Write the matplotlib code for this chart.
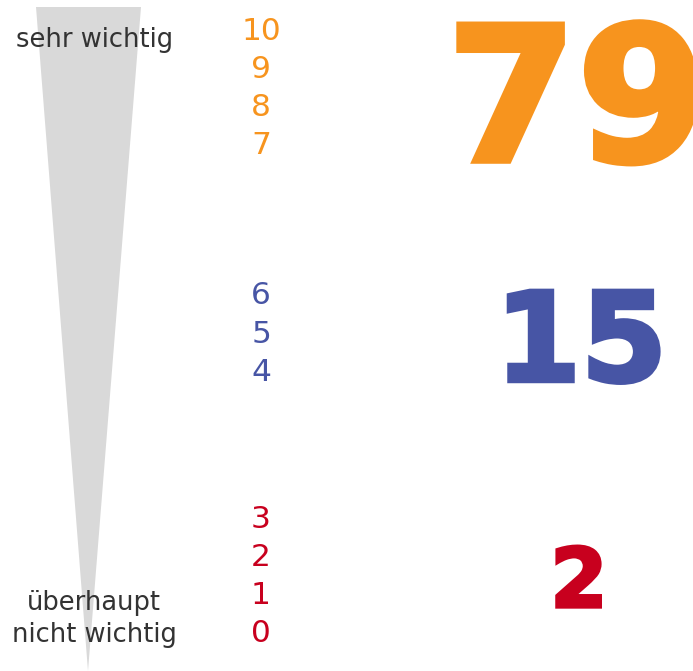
import matplotlib
matplotlib.use("Agg")
import matplotlib.pyplot as plt
import matplotlib.patheffects as pe
from matplotlib.patches import Polygon

plt.rcParams["font.family"] = "DejaVu Sans"

# ── Data ──────────────────────────────────────────────────────────────
scale_groups = [[10, 9, 8, 7], [6, 5, 4], [3, 2, 1, 0]]
shares = [79, 15, 2]
group_colors = ["#F7941E", "#4755A5", "#C8001E"]
top_label = "sehr wichtig"
bottom_label = ["überhaupt", "nicht wichtig"]

# ── Layout (pixel coordinates, y downwards) ────────────────────────────
W, H = 693, 671
group_top_y = [31, 296, 519]
step_y = 38.2
scale_x = 261
share_x = [577, 581, 579]
share_base_y = [161, 381, 607]
share_sizes = [135, 89, 59]
share_stroke = [4.0, 3.2, 2.4]

fig = plt.figure(figsize=(W / 100, H / 100), dpi=100)
ax = fig.add_axes([0, 0, 1, 1])
ax.set_xlim(0, W)
ax.set_ylim(H, 0)
ax.axis("off")

# gray wedge
ax.add_patch(Polygon([(36, 7), (141, 7), (88, 671)], closed=True,
                     facecolor="#D9D9D9", edgecolor="none"))

ax.text(95, 40, top_label, ha="center", va="center", fontsize=18.5,
        color="#333333")
for k, line in enumerate(bottom_label):
    ax.text(94, 603 + k * 32, line, ha="center", va="center", fontsize=18.5,
            color="#333333")

for grp, y0, col in zip(scale_groups, group_top_y, group_colors):
    for k, v in enumerate(grp):
        ax.text(scale_x, y0 + k * step_y, str(v), ha="center", va="center",
                fontsize=22.5, color=col)

for val, x, yb, fs, sw, col in zip(shares, share_x, share_base_y, share_sizes,
                                   share_stroke, group_colors):
    ax.text(x, yb, str(val), ha="center", va="baseline", fontsize=fs,
            fontweight="bold", color=col,
            path_effects=[pe.withStroke(linewidth=sw, foreground=col,
                                        joinstyle="miter")])

fig.savefig("out.png", dpi=100)
